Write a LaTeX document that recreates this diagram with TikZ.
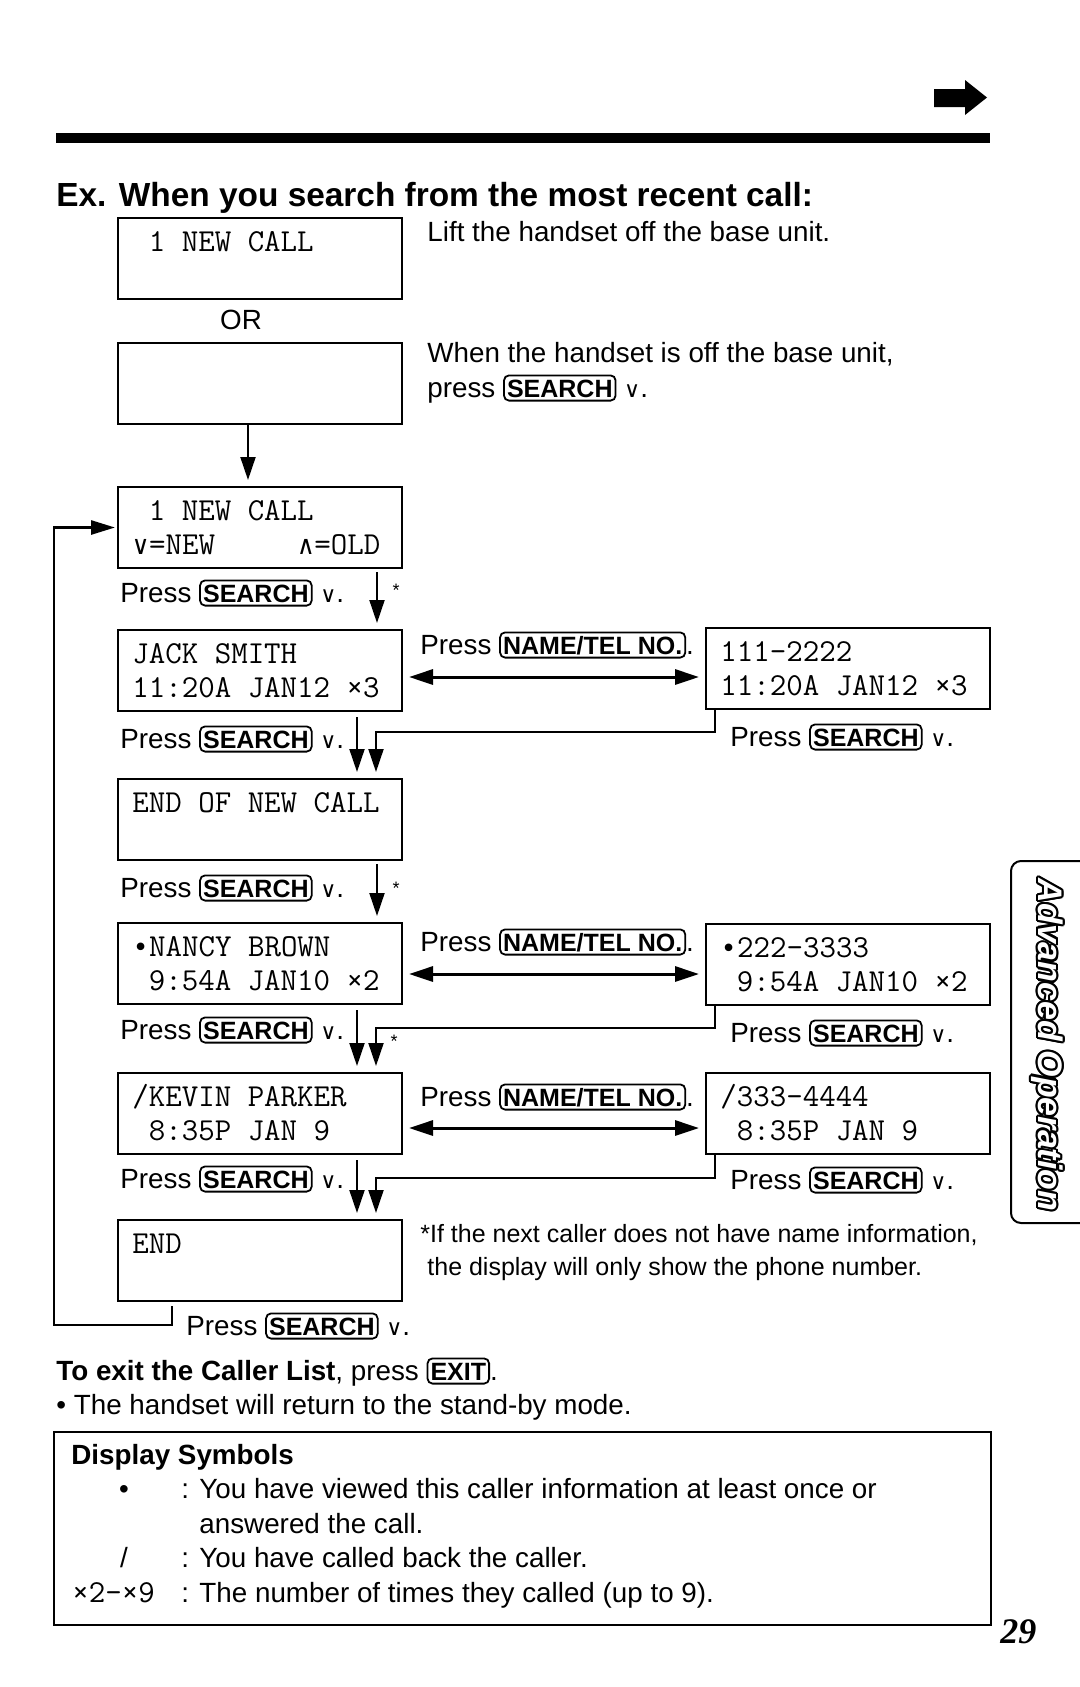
\documentclass[tikz,border=0pt]{standalone}
\usepackage{fontspec}
\setmainfont{Liberation Sans}
\newfontfamily\lcdsym{DejaVu Sans Mono}
\newfontfamily\symfont{DejaVu Sans}
\newfontfamily\pagefont{Liberation Serif}
\usetikzlibrary{arrows.meta}

\tikzset{
	lcdbox/.style={draw, line width=1pt, minimum width=142pt, minimum height=40.5pt, inner sep=0pt, anchor=north west},
	lcdtext/.style={anchor=base west, inner sep=0pt, font=\ttfamily\fontsize{16}{18}\selectfont},
	txt/.style={anchor=base west, inner sep=0pt, font=\fontsize{13.9}{17}\selectfont},
	note/.style={anchor=base west, inner sep=0pt, font=\fontsize{12.5}{15}\selectfont},
	keycap/.style={draw, line width=0.9pt, rounded corners=2.5pt, inner xsep=1.5pt, inner ysep=1.8pt, anchor=base, text height=9pt, text depth=0pt, font=\fontsize{12.5}{14}\selectfont\bfseries},
	flow/.style={line width=1pt, -{Triangle[length=11.5pt, width=7.5pt]}, shorten >=3pt},
	namearrow/.style={line width=1.5pt, {Triangle[length=12pt, width=7.5pt]}-{Triangle[length=12pt, width=7.5pt]}, shorten <=3pt, shorten >=3pt},
	backline/.style={line width=1.4pt, -{Triangle[length=12pt, width=7pt]}, shorten >=1pt},
	starmark/.style={inner sep=0pt, font=\fontsize{9}{10}\selectfont},
	tabtext/.style={inner sep=0pt, rotate=-90, font=\fontsize{17}{20}\selectfont\bfseries\itshape},
}

\newcommand\keycap[1]{\tikz[baseline=(kc.base)]\node[keycap] (kc) {#1};}
\newcommand\downkey{{\symfont\fontsize{11}{12}\selectfont ∨}}
\newcommand\presssearch{Press \keycap{SEARCH} \downkey.}
\newcommand\pressname{Press \keycap{NAME/TEL NO.}.}
\newcommand\lcdch[1]{\makebox[0.525em]{\lcdsym\fontsize{13}{14}\selectfont #1}}

\begin{document}
\begin{tikzpicture}[x=0.5pt, y=-0.5pt]
	\useasboundingbox (0,0) rectangle (1080,1687);

	%Kopf
	\fill (934,89) -- (965,89) -- (965,80) -- (987,97.5) -- (965,115) -- (965,107) -- (934,107) -- cycle;
	\draw [line width=5pt] (56,138) -- (990,138);
	\node [anchor=base west, inner sep=0pt, font=\fontsize{16.7}{20}\selectfont\bfseries] (title) at (56,206) {Ex. When you search from the most recent call:};

	%Start
	\node [lcdbox] (lift) at (117,217) {};
	\node [lcdtext] (lift-a) at ([shift={(15,34)}]lift.north west) {\phantom{0}1 NEW CALL};
	\node [txt] (lift-t) at (427,241) {Lift the handset off the base unit.};
	\node [txt, anchor=base] (or) at (241,329) {OR};
	\node [lcdbox] (off) at (117,342) {};
	\node [txt] (off-t1) at (427,362) {When the handset is off the base unit,};
	\node [txt] (off-t2) at (427,397) {press \keycap{SEARCH} \downkey.};

	\node [lcdbox] (newcall) at (117,486) {};
	\node [lcdtext] (newcall-a) at ([shift={(15,34)}]newcall.north west) {\phantom{0}1 NEW CALL};
	\node [lcdtext] (newcall-b) at ([shift={(15,68)}]newcall.north west) {\lcdch{∨}=NEW\phantom{00000}\lcdch{∧}=OLD};
	\draw [flow] ([xshift=-6pt]off.south) -- ([xshift=-6pt]newcall.north);

	%Anrufer 1
	\node [txt] (p1) at (120,602) {\presssearch};
	\node [starmark] (s1) at (396,590) {*};
	\node [lcdbox] (jack) at (117,629) {};
	\node [lcdtext] (jack-a) at ([shift={(15,34)}]jack.north west) {JACK SMITH};
	\node [lcdtext] (jack-b) at ([shift={(15,68)}]jack.north west) {11:20A JAN12 ×3};
	\node [lcdbox] (num1) at (705,627) {};
	\node [lcdtext] (num1-a) at ([shift={(15,34)}]num1.north west) {111-2222};
	\node [lcdtext] (num1-b) at ([shift={(15,68)}]num1.north west) {11:20A JAN12 ×3};
	\draw [flow, shorten <=1.5pt] ([xshift=-13pt]newcall.south east) -- ([xshift=-13pt]jack.north east);
	\node [txt] (n1) at (420,654) {\pressname};
	\draw [namearrow] (jack.east |- 0,677) -- (num1.west |- 0,677);

	\node [txt] (p2) at (120,748) {\presssearch};
	\node [txt] (p3) at (730,746) {\presssearch};

	\node [lcdbox] (endnew) at (117,778) {};
	\node [lcdtext] (endnew-a) at ([shift={(15,34)}]endnew.north west) {END OF NEW CALL};
	\draw [flow, shorten <=2.5pt] ([xshift=-23pt]jack.south east) -- ([xshift=-23pt]endnew.north east);
	\draw [flow] ([xshift=5pt]num1.south west) -- ++(0,22) -| ([xshift=-13.5pt]endnew.north east);

	%Anrufer 2
	\node [txt] (p4) at (120,897) {\presssearch};
	\node [starmark] (s2) at (396,888) {*};
	\node [lcdbox] (nancy) at (117,922) {};
	\node [lcdtext] (nancy-a) at ([shift={(15,34)}]nancy.north west) {\lcdch{•}NANCY BROWN};
	\node [lcdtext] (nancy-b) at ([shift={(15,68)}]nancy.north west) {\phantom{0}9:54A JAN10 ×2};
	\node [lcdbox] (num2) at (705,923) {};
	\node [lcdtext] (num2-a) at ([shift={(15,34)}]num2.north west) {\lcdch{•}222-3333};
	\node [lcdtext] (num2-b) at ([shift={(15,68)}]num2.north west) {\phantom{0}9:54A JAN10 ×2};
	\draw [flow, shorten <=1.5pt] ([xshift=-13pt]endnew.south east) -- ([xshift=-13pt]nancy.north east);
	\node [txt] (n2) at (420,951) {\pressname};
	\draw [namearrow] (nancy.east |- 0,974) -- (num2.west |- 0,974);

	\node [txt] (p5) at (120,1039) {\presssearch};
	\node [txt] (p6) at (730,1042) {\presssearch};
	\node [starmark] (s3) at (394,1041) {*};

	%Anrufer 3
	\node [lcdbox] (kevin) at (117,1072) {};
	\node [lcdtext] (kevin-a) at ([shift={(15,34)}]kevin.north west) {/KEVIN PARKER};
	\node [lcdtext] (kevin-b) at ([shift={(15,68)}]kevin.north west) {\phantom{0}8:35P JAN 9};
	\node [lcdbox] (num3) at (705,1072) {};
	\node [lcdtext] (num3-a) at ([shift={(15,34)}]num3.north west) {/333-4444};
	\node [lcdtext] (num3-b) at ([shift={(15,68)}]num3.north west) {\phantom{0}8:35P JAN 9};
	\draw [flow, shorten <=2.5pt] ([xshift=-23pt]nancy.south east) -- ([xshift=-23pt]kevin.north east);
	\draw [flow] ([xshift=5pt]num2.south west) -- ++(0,22) -| ([xshift=-13.5pt]kevin.north east);
	\node [txt] (n3) at (420,1106) {\pressname};
	\draw [namearrow] (kevin.east |- 0,1128) -- (num3.west |- 0,1128);

	\node [txt] (p7) at (120,1188) {\presssearch};
	\node [txt] (p8) at (730,1189) {\presssearch};

	%Ende
	\node [lcdbox] (endbox) at (117,1219) {};
	\node [lcdtext] (endbox-a) at ([shift={(15,34)}]endbox.north west) {END};
	\draw [flow, shorten <=2.5pt] ([xshift=-23pt]kevin.south east) -- ([xshift=-23pt]endbox.north east);
	\draw [flow] ([xshift=5pt]num3.south west) -- ++(0,23) -| ([xshift=-13.5pt]endbox.north east);
	\node [note] (foot1) at (420,1242) {*If the next caller does not have name information,};
	\node [note] (foot2) at (427,1275) {the display will only show the phone number.};

	\coordinate (back) at (54,1325);
	\draw [backline] ([xshift=27.5pt,yshift=-2pt]endbox.south west) |- (back) |- (newcall.west);
	\node [txt] (p9) at (186,1335) {\presssearch};

	%Unten
	\node [txt] (exit) at (56,1380) {\textbf{To exit the Caller List}, press \keycap{EXIT}.};
	\node [txt] (mode) at (56,1414.5) {• The handset will return to the stand-by mode.};
	\node [draw, line width=1pt, minimum width=468.5pt, minimum height=96.5pt, inner sep=0pt, anchor=north west] (symbox) at (53,1431) {};
	\node [txt, font=\fontsize{13.9}{17}\selectfont\bfseries] (symtitle) at (71,1464) {Display Symbols};
	\node [txt, anchor=base] (sym1) at (124,1498.5) {•};
	\node [txt] (sym1-t) at (181,1498.5) {: You have viewed this caller information at least once or};
	\node [txt] (sym1-u) at (199,1533) {answered the call.};
	\node [txt, anchor=base] (sym2) at (124,1567) {/};
	\node [txt] (sym2-t) at (181,1567) {: You have called back the caller.};
	\node [lcdtext] (sym3) at (72,1602) {×2-×9};
	\node [txt] (sym3-t) at (181,1602) {: The number of times they called (up to 9).};

	%Seitenrand
	\draw [line width=1pt, rounded corners=5pt] (1080,861) -- (1011,861) -- (1011,1223) -- (1080,1223);
	\foreach \a in {0,30,...,330}
	{
		\node [tabtext, shift={(\a:1.1pt)}] (tab\a) at (1047,1045) {Advanced Operation};
	}
	\node [tabtext, text=white] (tab) at (1047,1045) {Advanced Operation};
	\node [anchor=base west, inner sep=0pt, font=\pagefont\fontsize{18}{20}\selectfont\bfseries\itshape] (page) at (1000,1643) {29};
\end{tikzpicture}
\end{document}
